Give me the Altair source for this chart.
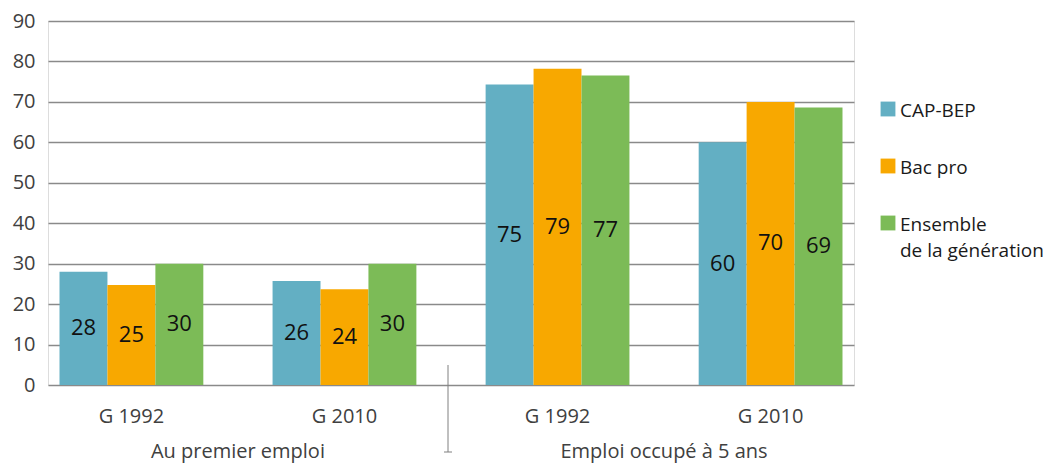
import altair as alt
import pandas as pd

# ---- data ----
groups = ["G 1992", "G 2010", "G 1992", "G 2010"]
sections = ["Au premier emploi", "Emploi occupé à 5 ans"]
series = ["CAP-BEP", "Bac pro", "Ensemble de la génération"]
cap_bep = [28, 25.7, 74.3, 60]
bac_pro = [24.7, 23.7, 78.2, 70]
ensemble = [30, 30, 76.5, 68.6]
cap_lbl = [28, 26, 75, 60]
bac_lbl = [25, 24, 79, 70]
ens_lbl = [30, 30, 77, 69]
y_ticks = [0, 10, 20, 30, 40, 50, 60, 70, 80, 90]
colors = ["#63AFC3", "#F8A800", "#7CBB57"]
legend_lines = [["CAP-BEP"], ["Bac pro"], ["Ensemble", " de la génération"]]

keys = [f"{i}|{g}" for i, g in enumerate(groups)]
rows = []
for s, vals, lbls in zip(series, [cap_bep, bac_pro, ensemble], [cap_lbl, bac_lbl, ens_lbl]):
    for k, v, l in zip(keys, vals, lbls):
        rows.append({"key": k, "series": s, "value": v, "label": l})
df = pd.DataFrame(rows)

# ---- layout ----
W, H = 806, 364
PI, PO = 0.325, 0.054
FONT = "Open Sans"
step = W / (len(keys) - PI + 2 * PO)
bw = step * (1 - PI)
gap = step * PI
sec_x = [PO * step + bw + gap / 2, PO * step + 2 * step + bw + gap / 2]
sep_x = W / 2 - 3

xenc = alt.X("key:N", sort=keys,
             scale=alt.Scale(paddingInner=PI, paddingOuter=PO),
             axis=alt.Axis(title=None, labelExpr="split(datum.value, '|')[1]",
                           labelAngle=0, labelPadding=31, labelBaseline="middle",
                           ticks=False, tickSize=0, domain=False, grid=False,
                           labelFontSize=20, labelColor="#404040", labelFont=FONT))
xoff = alt.XOffset("series:N", sort=series, scale=alt.Scale(paddingInner=0, paddingOuter=0))

base = alt.Chart(df)
bars = base.mark_bar().encode(
    x=xenc,
    xOffset=xoff,
    y=alt.Y("value:Q", scale=alt.Scale(domain=[0, 90], nice=False),
            axis=alt.Axis(values=y_ticks, title=None, grid=True, gridColor="#8a8a8a",
                          gridWidth=1.3, domain=False, ticks=False, tickSize=0,
                          labelPadding=13, labelFontSize=20, labelColor="#404040",
                          labelFont=FONT)),
    color=alt.Color("series:N", sort=series,
                    scale=alt.Scale(domain=series, range=colors), legend=None),
)

labels = base.mark_text(font=FONT, fontSize=22, color="#111111", baseline="middle").encode(
    x=xenc, xOffset=xoff,
    y=alt.Y("mid:Q"),
    text=alt.Text("label:Q"),
).transform_calculate(mid="datum.value / 2")

def one(text):
    return alt.Chart(pd.DataFrame({"t": [text]}))

layers = [bars, labels]
for s, sx in zip(sections, sec_x):
    layers.append(one(s).mark_text(font=FONT, fontSize=20, color="#404040", baseline="middle").encode(
        text="t:N", x=alt.value(sx), y=alt.value(H + 67)))

# separator
layers.append(one("sep").mark_rule(color="#808080", strokeWidth=1).encode(
    x=alt.value(sep_x), y=alt.value(H - 20), y2=alt.value(H + 67)))
layers.append(one("tick").mark_rule(color="#808080", strokeWidth=1).encode(
    x=alt.value(sep_x - 4), x2=alt.value(sep_x + 4), y=alt.value(H + 67)))

# legend
leg_y = [88, 145, 202]
for i, (lines, c) in enumerate(zip(legend_lines, colors)):
    layers.append(one("sq").mark_square(size=220, color=c, opacity=1, filled=True).encode(
        x=alt.value(840), y=alt.value(leg_y[i])))
    for j, ln in enumerate(lines):
        layers.append(one(ln).mark_text(font=FONT, fontSize=19, color="#1a1a1a",
                                        align="left", baseline="middle").encode(
            text="t:N", x=alt.value(852), y=alt.value(leg_y[i] + 2 + 26 * j)))

chart = alt.layer(*layers).properties(
    width=W, height=H,
    padding={"left": 40, "top": 13, "right": 200, "bottom": 78},
    autosize=alt.AutoSizeParams(type="none"),
).configure_view(stroke=None).configure(background="white")

chart.save("out.html", embed_options={"renderer": "svg", "actions": False})
